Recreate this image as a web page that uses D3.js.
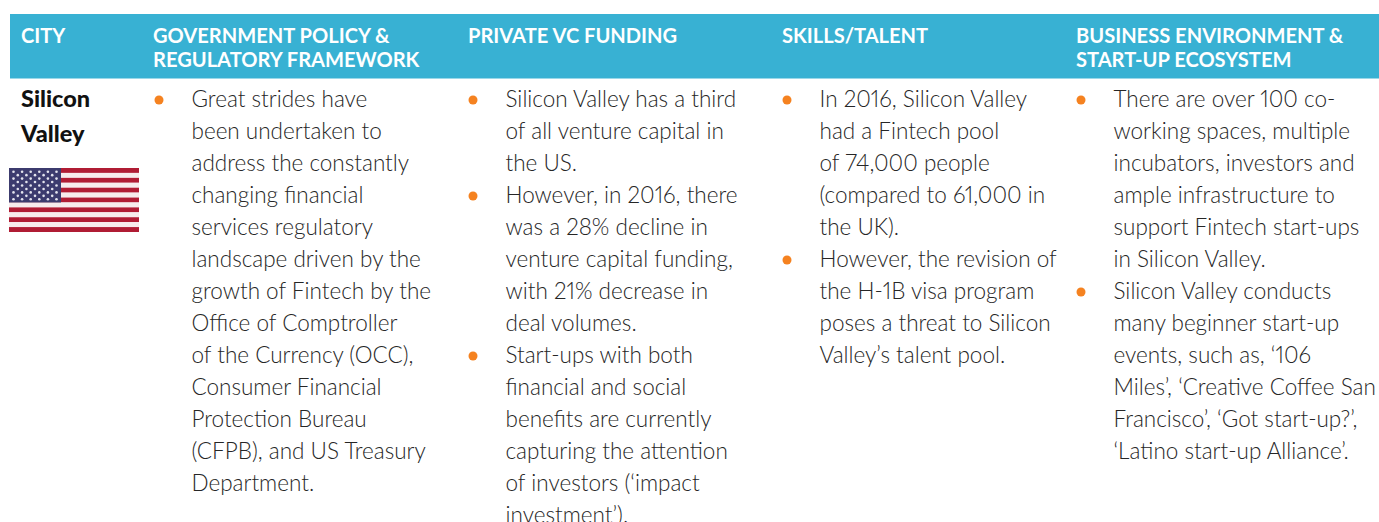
<!DOCTYPE html>
<html>
<head>
<meta charset="utf-8">
<script src="https://cdn.jsdelivr.net/npm/d3@7"></script>
<style>
html,body{margin:0;padding:0;background:#fff;overflow:hidden}
svg{display:block}
text{font-family:Lato,"Open Sans",sans-serif;font-variant-numeric:proportional-nums;font-feature-settings:"pnum" 1}
</style>
</head>
<body>
<svg></svg>
<script>
var headers = [
    ["CITY"],
    ["GOVERNMENT POLICY &", "REGULATORY FRAMEWORK"],
    ["PRIVATE VC FUNDING"],
    ["SKILLS/TALENT"],
    ["BUSINESS ENVIRONMENT &", "START-UP ECOSYSTEM"]
];
var city = ["Silicon", "Valley"];

// each column is a list of bullets, each bullet a list of printed lines
var policyBullets = [
    ["Great strides have", "been undertaken to", "address the constantly", "changing financial", "services regulatory",
     "landscape driven by the", "growth of Fintech by the", "Office of Comptroller", "of the Currency (OCC),",
     "Consumer Financial", "Protection Bureau", "(CFPB), and US Treasury", "Department."]
];
var fundingBullets = [
    ["Silicon Valley has a third", "of all venture capital in", "the US."],
    ["However, in 2016, there", "was a 28% decline in", "venture capital funding,", "with 21% decrease in", "deal volumes."],
    ["Start-ups with both", "financial and social", "benefits are currently", "capturing the attention", "of investors (‘impact", "investment’)."]
];
var talentBullets = [
    ["In 2016, Silicon Valley", "had a Fintech pool", "of 74,000 people", "(compared to 61,000 in", "the UK)."],
    ["However, the revision of", "the H-1B visa program", "poses a threat to Silicon", "Valley’s talent pool."]
];
var ecosystemBullets = [
    ["There are over 100 co-", "working spaces, multiple", "incubators, investors and", "ample infrastructure to", "support Fintech start-ups", "in Silicon Valley."],
    ["Silicon Valley conducts", "many beginner start-up", "events, such as, ‘106", "Miles’, ‘Creative Coffee San", "Francisco’, ‘Got start-up?’,", "‘Latino start-up Alliance’."]
];
var columns = [policyBullets, fundingBullets, talentBullets, ecosystemBullets];

var svgWidth = 1379, svgHeight = 522;
var headerX = [21, 153, 468, 782, 1076];
var bulletX = [159, 473, 787, 1081];
var textIndent = 32.5;
var lineHeight = 32, firstLine = 107;

var svg = d3.select("svg").attr("width", svgWidth).attr("height", svgHeight);

// header band
svg.append("rect")
    .attr("x", 10).attr("y", 14)
    .attr("width", svgWidth - 10).attr("height", 64.5)
    .attr("fill", "#38b1d3");

headers.forEach(function(lines, i){
    svg.selectAll(null)
        .data(lines)
        .enter()
        .append("text")
        .attr("x", headerX[i])
        .attr("y", function(d, j){ return 43 + j * 24; })
        .attr("fill", "#fff")
        .attr("font-size", 20.1)
        .attr("font-weight", 700)
        .text(function(d){ return d; });
});

// city name
svg.selectAll(".city")
    .data(city)
    .enter()
    .append("text")
    .attr("class", "city")
    .attr("x", 21)
    .attr("y", function(d, i){ return 107 + i * 35; })
    .attr("fill", "#111")
    .attr("font-size", 23.5)
    .attr("font-weight", 900)
    .text(function(d){ return d; });

// bullets and their lines
columns.forEach(function(bullets, c){
    var row = 0;
    bullets.forEach(function(lines){
        svg.append("circle")
            .attr("cx", bulletX[c])
            .attr("cy", firstLine - 7 + row * lineHeight)
            .attr("r", 4.5)
            .attr("fill", "#f58220");
        lines.forEach(function(line){
            svg.append("text")
                .attr("x", bulletX[c] + textIndent)
                .attr("y", firstLine + row * lineHeight)
                .attr("fill", "#262626")
                .attr("font-size", 22.5)
                .attr("font-weight", 300)
                .text(line);
            row++;
        });
    });
});

// flag
var flagX = 9, flagY = 168, flagW = 130, flagH = 64;
var stripes = d3.range(13);
var stripeY = d3.scaleBand().domain(stripes).range([flagY, flagY + flagH]);
var flag = svg.append("g");
flag.selectAll("rect")
    .data(stripes)
    .enter()
    .append("rect")
    .attr("x", flagX)
    .attr("y", function(d){ return stripeY(d); })
    .attr("width", flagW)
    .attr("height", stripeY.bandwidth())
    .attr("fill", function(d){ return d % 2 ? "#f7eced" : "#b01c34"; });
flag.append("rect")
    .attr("x", flagX).attr("y", flagY)
    .attr("width", 52).attr("height", stripeY.bandwidth() * 7)
    .attr("fill", "#3c3b6e");

// 9 rows of stars, alternating 6 and 5
var starRows = d3.range(9);
var stars = [];
starRows.forEach(function(r){
    d3.range(r % 2 ? 5 : 6).forEach(function(k){ stars.push({r: r, k: k}); });
});
flag.selectAll("circle")
    .data(stars)
    .enter()
    .append("circle")
    .attr("cx", function(d){ return flagX + 4.5 + d.k * 8.6 + (d.r % 2 ? 4.3 : 0); })
    .attr("cy", function(d){ return flagY + 3.7 + d.r * 3.45; })
    .attr("r", 1.3)
    .attr("fill", "#e4e4ee");
</script>
</body>
</html>
